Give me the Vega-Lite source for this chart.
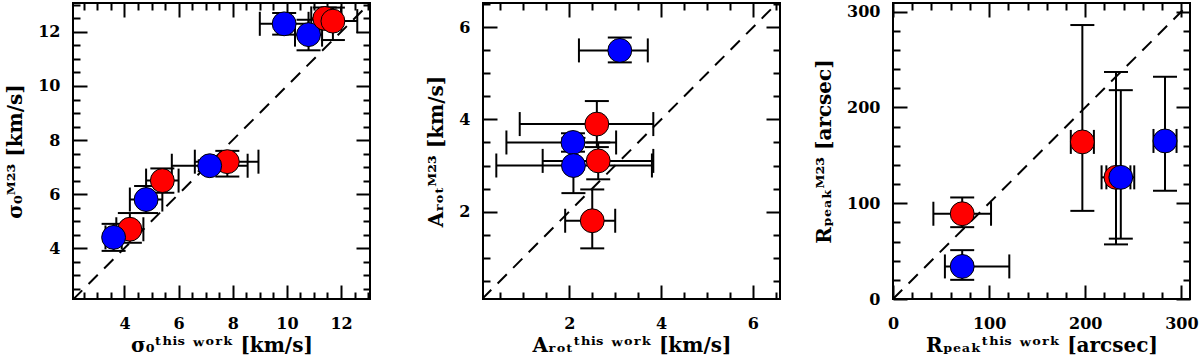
{
  "$schema": "https://vega.github.io/schema/vega-lite/v6.json",
  "background": "white",
  "padding": {"left": 4, "top": 1, "right": 0, "bottom": 0},
  "spacing": 113,
  "bounds": "flush",
  "datasets": {
    "p1": [
      {"g": "A", "x": 4.2, "y": 4.7, "xlo": 3.7, "xhi": 4.7, "ylo": 4.2, "yhi": 5.3},
      {"g": "B", "x": 3.6, "y": 4.4, "xlo": 3.3, "xhi": 3.9, "ylo": 3.9, "yhi": 4.9},
      {"g": "A", "x": 5.4, "y": 6.5, "xlo": 4.8, "xhi": 6.0, "ylo": 6.05, "yhi": 6.95},
      {"g": "B", "x": 4.8, "y": 5.8, "xlo": 4.2, "xhi": 5.4, "ylo": 5.3, "yhi": 6.3},
      {"g": "A", "x": 7.8, "y": 7.2, "xlo": 6.6, "xhi": 8.95, "ylo": 6.65, "yhi": 7.6},
      {"g": "B", "x": 7.15, "y": 7.05, "xlo": 5.75, "xhi": 8.55, "ylo": 6.85, "yhi": 7.25},
      {"g": "B", "x": 9.9, "y": 12.3, "xlo": 9.0, "xhi": 10.8, "ylo": 11.9, "yhi": 12.7},
      {"g": "B", "x": 10.8, "y": 11.9, "xlo": 10.3, "xhi": 11.3, "ylo": 11.32, "yhi": 12.45},
      {"g": "A", "x": 11.4, "y": 12.5, "xlo": 10.9, "xhi": 12.0, "ylo": 12.1, "yhi": 12.9},
      {"g": "A", "x": 11.7, "y": 12.4, "xlo": 11.2, "xhi": 12.6, "ylo": 11.7, "yhi": 12.9}
    ],
    "p2": [
      {"g": "B", "x": 2.08, "y": 3.5, "xlo": 0.63, "xhi": 3.02, "ylo": 3.3, "yhi": 3.7},
      {"g": "B", "x": 2.09, "y": 3.0, "xlo": 0.41, "xhi": 3.8, "ylo": 2.4, "yhi": 3.6},
      {"g": "A", "x": 2.63, "y": 3.1, "xlo": 1.42, "xhi": 3.83, "ylo": 2.7, "yhi": 3.5},
      {"g": "A", "x": 2.6, "y": 3.9, "xlo": 0.92, "xhi": 3.83, "ylo": 3.4, "yhi": 4.4},
      {"g": "A", "x": 2.5, "y": 1.8, "xlo": 1.91, "xhi": 3.0, "ylo": 1.2, "yhi": 2.48},
      {"g": "B", "x": 3.1, "y": 5.5, "xlo": 2.21, "xhi": 3.71, "ylo": 5.24, "yhi": 5.78}
    ],
    "p3": [
      {"g": "A", "x": 72, "y": 89, "xlo": 42, "xhi": 102, "ylo": 75, "yhi": 106},
      {"g": "B", "x": 72, "y": 34, "xlo": 54, "xhi": 121, "ylo": 20, "yhi": 51},
      {"g": "A", "x": 197, "y": 164, "xlo": 185, "xhi": 209, "ylo": 92, "yhi": 286},
      {"g": "A", "x": 232, "y": 127, "xlo": 217, "xhi": 247, "ylo": 57, "yhi": 237},
      {"g": "B", "x": 237, "y": 127, "xlo": 222, "xhi": 251, "ylo": 63, "yhi": 218},
      {"g": "B", "x": 283, "y": 165, "xlo": 271, "xhi": 295, "ylo": 113, "yhi": 232}
    ],
    "l1": [{"x": 2.1, "y": 2.1}, {"x": 13.07, "y": 13.07}],
    "l2": [{"x": 0.1, "y": 0.1}, {"x": 6.6, "y": 6.6}],
    "l3": [{"x": 0, "y": 0}, {"x": 309, "y": 309}]
  },
  "hconcat": [
    {
      "width": 297, "height": 296,
      "data": {"name": "p1"},
      "resolve": {"axis": {"x": "independent", "y": "independent"}},
      "layer": [
        {"mark": {"type": "rule", "color": "black", "strokeWidth": 2},
         "encoding": {
           "x": {"field": "xlo", "type": "quantitative", "scale": {"domain": [2.1, 13.07], "nice": false, "zero": false},
                 "axis": {"orient": "bottom", "values": [4, 6, 8, 10, 12], "tickSize": -14, "labelPadding": 30, "title": "σ₀ᵗʰⁱˢ ʷᵒʳᵏ [km/s]"}},
           "x2": {"field": "xhi"},
           "y": {"field": "y", "type": "quantitative", "scale": {"domain": [2.12, 13.07], "nice": false, "zero": false},
                 "axis": {"orient": "left", "values": [4, 6, 8, 10, 12], "tickSize": -14, "labelPadding": 27, "titlePadding": 12, "title": "σ₀ᴹ²³ [km/s]"}}
         }},
        {"mark": {"type": "rule", "color": "black", "strokeWidth": 2},
         "encoding": {
           "x": {"field": "x", "type": "quantitative",
                 "axis": {"orient": "bottom", "values": [2.5, 3, 3.5, 4.5, 5, 5.5, 6.5, 7, 7.5, 8.5, 9, 9.5, 10.5, 11, 11.5, 12.5, 13], "tickSize": -7, "labels": false, "title": null}},
           "y": {"field": "ylo", "type": "quantitative",
                 "axis": {"orient": "left", "values": [2.5, 3, 3.5, 4.5, 5, 5.5, 6.5, 7, 7.5, 8.5, 9, 9.5, 10.5, 11, 11.5, 12.5, 13], "tickSize": -7, "labels": false, "title": null}},
           "y2": {"field": "yhi"}
         }},
        {"mark": {"type": "tick", "orient": "vertical", "size": 24, "thickness": 2, "color": "black", "opacity": 1},
         "encoding": {
           "x": {"field": "xlo", "type": "quantitative",
                 "axis": {"orient": "top", "values": [4, 6, 8, 10, 12], "tickSize": -14, "labels": false, "title": null}},
           "y": {"field": "y", "type": "quantitative",
                 "axis": {"orient": "right", "values": [4, 6, 8, 10, 12], "tickSize": -14, "labels": false, "title": null}}
         }},
        {"mark": {"type": "tick", "orient": "vertical", "size": 24, "thickness": 2, "color": "black", "opacity": 1},
         "encoding": {
           "x": {"field": "xhi", "type": "quantitative",
                 "axis": {"orient": "top", "values": [2.5, 3, 3.5, 4.5, 5, 5.5, 6.5, 7, 7.5, 8.5, 9, 9.5, 10.5, 11, 11.5, 12.5, 13], "tickSize": -7, "labels": false, "title": null}},
           "y": {"field": "y", "type": "quantitative",
                 "axis": {"orient": "right", "values": [2.5, 3, 3.5, 4.5, 5, 5.5, 6.5, 7, 7.5, 8.5, 9, 9.5, 10.5, 11, 11.5, 12.5, 13], "tickSize": -7, "labels": false, "title": null}}
         }},
        {"mark": {"type": "tick", "orient": "horizontal", "size": 24, "thickness": 2, "color": "black", "opacity": 1},
         "encoding": {
           "x": {"field": "x", "type": "quantitative", "axis": null},
           "y": {"field": "ylo", "type": "quantitative", "axis": null}
         }},
        {"mark": {"type": "tick", "orient": "horizontal", "size": 24, "thickness": 2, "color": "black", "opacity": 1},
         "encoding": {
           "x": {"field": "x", "type": "quantitative", "axis": null},
           "y": {"field": "yhi", "type": "quantitative", "axis": null}
         }},
        {"data": {"name": "l1"},
         "mark": {"type": "line", "color": "black", "strokeWidth": 2, "strokeDash": [13, 9], "clip": true},
         "encoding": {
           "x": {"field": "x", "type": "quantitative", "axis": null},
           "y": {"field": "y", "type": "quantitative", "axis": null}
         }},
        {"mark": {"type": "point", "shape": "circle", "filled": true, "size": 570, "stroke": "black", "strokeWidth": 1, "opacity": 1},
         "encoding": {
           "x": {"field": "x", "type": "quantitative", "axis": null},
           "y": {"field": "y", "type": "quantitative", "axis": null},
           "color": {"field": "g", "type": "nominal", "scale": {"domain": ["A", "B"], "range": ["#ff0000", "#0000ff"]}, "legend": null}
         }}
      ]
    },
    {
      "width": 297, "height": 296,
      "data": {"name": "p2"},
      "resolve": {"axis": {"x": "independent", "y": "independent"}},
      "layer": [
        {"mark": {"type": "rule", "color": "black", "strokeWidth": 2},
         "encoding": {
           "x": {"field": "xlo", "type": "quantitative", "scale": {"domain": [0.12, 6.59], "nice": false, "zero": false},
                 "axis": {"orient": "bottom", "values": [2, 4, 6], "tickSize": -14, "labelPadding": 30, "title": "Aᵣₒₜᵗʰⁱˢ ʷᵒʳᵏ [km/s]"}},
           "x2": {"field": "xhi"},
           "y": {"field": "y", "type": "quantitative", "scale": {"domain": [0.1, 6.53], "nice": false, "zero": false},
                 "axis": {"orient": "left", "values": [2, 4, 6], "tickSize": -14, "labelPadding": 27, "titlePadding": 12, "title": "Aᵣₒₜᴹ²³ [km/s]"}}
         }},
        {"mark": {"type": "rule", "color": "black", "strokeWidth": 2},
         "encoding": {
           "x": {"field": "x", "type": "quantitative",
                 "axis": {"orient": "bottom", "values": [0.5, 1, 1.5, 2.5, 3, 3.5, 4.5, 5, 5.5, 6.5], "tickSize": -7, "labels": false, "title": null}},
           "y": {"field": "ylo", "type": "quantitative",
                 "axis": {"orient": "left", "values": [0.5, 1, 1.5, 2.5, 3, 3.5, 4.5, 5, 5.5, 6.5], "tickSize": -7, "labels": false, "title": null}},
           "y2": {"field": "yhi"}
         }},
        {"mark": {"type": "tick", "orient": "vertical", "size": 24, "thickness": 2, "color": "black", "opacity": 1},
         "encoding": {
           "x": {"field": "xlo", "type": "quantitative",
                 "axis": {"orient": "top", "values": [2, 4, 6], "tickSize": -14, "labels": false, "title": null}},
           "y": {"field": "y", "type": "quantitative",
                 "axis": {"orient": "right", "values": [2, 4, 6], "tickSize": -14, "labels": false, "title": null}}
         }},
        {"mark": {"type": "tick", "orient": "vertical", "size": 24, "thickness": 2, "color": "black", "opacity": 1},
         "encoding": {
           "x": {"field": "xhi", "type": "quantitative",
                 "axis": {"orient": "top", "values": [0.5, 1, 1.5, 2.5, 3, 3.5, 4.5, 5, 5.5, 6.5], "tickSize": -7, "labels": false, "title": null}},
           "y": {"field": "y", "type": "quantitative",
                 "axis": {"orient": "right", "values": [0.5, 1, 1.5, 2.5, 3, 3.5, 4.5, 5, 5.5, 6.5], "tickSize": -7, "labels": false, "title": null}}
         }},
        {"mark": {"type": "tick", "orient": "horizontal", "size": 24, "thickness": 2, "color": "black", "opacity": 1},
         "encoding": {
           "x": {"field": "x", "type": "quantitative", "axis": null},
           "y": {"field": "ylo", "type": "quantitative", "axis": null}
         }},
        {"mark": {"type": "tick", "orient": "horizontal", "size": 24, "thickness": 2, "color": "black", "opacity": 1},
         "encoding": {
           "x": {"field": "x", "type": "quantitative", "axis": null},
           "y": {"field": "yhi", "type": "quantitative", "axis": null}
         }},
        {"data": {"name": "l2"},
         "mark": {"type": "line", "color": "black", "strokeWidth": 2, "strokeDash": [13, 9], "clip": true},
         "encoding": {
           "x": {"field": "x", "type": "quantitative", "axis": null},
           "y": {"field": "y", "type": "quantitative", "axis": null}
         }},
        {"mark": {"type": "point", "shape": "circle", "filled": true, "size": 570, "stroke": "black", "strokeWidth": 1, "opacity": 1},
         "encoding": {
           "x": {"field": "x", "type": "quantitative", "axis": null},
           "y": {"field": "y", "type": "quantitative", "axis": null},
           "color": {"field": "g", "type": "nominal", "scale": {"domain": ["A", "B"], "range": ["#ff0000", "#0000ff"]}, "legend": null}
         }}
      ]
    },
    {
      "width": 297, "height": 296,
      "data": {"name": "p3"},
      "resolve": {"axis": {"x": "independent", "y": "independent"}},
      "layer": [
        {"mark": {"type": "rule", "color": "black", "strokeWidth": 2},
         "encoding": {
           "x": {"field": "xlo", "type": "quantitative", "scale": {"domain": [0, 309], "nice": false, "zero": false},
                 "axis": {"orient": "bottom", "values": [0, 100, 200, 300], "tickSize": -14, "labelPadding": 30, "title": "Rₚₑₐₖᵗʰⁱˢ ʷᵒʳᵏ [arcsec]"}},
           "x2": {"field": "xhi"},
           "y": {"field": "y", "type": "quantitative", "scale": {"domain": [0, 309], "nice": false, "zero": false},
                 "axis": {"orient": "left", "values": [0, 100, 200, 300], "tickSize": -14, "labelPadding": 27, "titlePadding": 12, "title": "Rₚₑₐₖᴹ²³ [arcsec]"}}
         }},
        {"mark": {"type": "rule", "color": "black", "strokeWidth": 2},
         "encoding": {
           "x": {"field": "x", "type": "quantitative",
                 "axis": {"orient": "bottom", "values": [20, 40, 60, 80, 120, 140, 160, 180, 220, 240, 260, 280], "tickSize": -7, "labels": false, "title": null}},
           "y": {"field": "ylo", "type": "quantitative",
                 "axis": {"orient": "left", "values": [20, 40, 60, 80, 120, 140, 160, 180, 220, 240, 260, 280], "tickSize": -7, "labels": false, "title": null}},
           "y2": {"field": "yhi"}
         }},
        {"mark": {"type": "tick", "orient": "vertical", "size": 24, "thickness": 2, "color": "black", "opacity": 1},
         "encoding": {
           "x": {"field": "xlo", "type": "quantitative",
                 "axis": {"orient": "top", "values": [0, 100, 200, 300], "tickSize": -14, "labels": false, "title": null}},
           "y": {"field": "y", "type": "quantitative",
                 "axis": {"orient": "right", "values": [0, 100, 200, 300], "tickSize": -14, "labels": false, "title": null}}
         }},
        {"mark": {"type": "tick", "orient": "vertical", "size": 24, "thickness": 2, "color": "black", "opacity": 1},
         "encoding": {
           "x": {"field": "xhi", "type": "quantitative",
                 "axis": {"orient": "top", "values": [20, 40, 60, 80, 120, 140, 160, 180, 220, 240, 260, 280], "tickSize": -7, "labels": false, "title": null}},
           "y": {"field": "y", "type": "quantitative",
                 "axis": {"orient": "right", "values": [20, 40, 60, 80, 120, 140, 160, 180, 220, 240, 260, 280], "tickSize": -7, "labels": false, "title": null}}
         }},
        {"mark": {"type": "tick", "orient": "horizontal", "size": 24, "thickness": 2, "color": "black", "opacity": 1},
         "encoding": {
           "x": {"field": "x", "type": "quantitative", "axis": null},
           "y": {"field": "ylo", "type": "quantitative", "axis": null}
         }},
        {"mark": {"type": "tick", "orient": "horizontal", "size": 24, "thickness": 2, "color": "black", "opacity": 1},
         "encoding": {
           "x": {"field": "x", "type": "quantitative", "axis": null},
           "y": {"field": "yhi", "type": "quantitative", "axis": null}
         }},
        {"data": {"name": "l3"},
         "mark": {"type": "line", "color": "black", "strokeWidth": 2, "strokeDash": [13, 9], "clip": true},
         "encoding": {
           "x": {"field": "x", "type": "quantitative", "axis": null},
           "y": {"field": "y", "type": "quantitative", "axis": null}
         }},
        {"mark": {"type": "point", "shape": "circle", "filled": true, "size": 570, "stroke": "black", "strokeWidth": 1, "opacity": 1},
         "encoding": {
           "x": {"field": "x", "type": "quantitative", "axis": null},
           "y": {"field": "y", "type": "quantitative", "axis": null},
           "color": {"field": "g", "type": "nominal", "scale": {"domain": ["A", "B"], "range": ["#ff0000", "#0000ff"]}, "legend": null}
         }}
      ]
    }
  ],
  "config": {
    "view": {"stroke": "black", "strokeWidth": 2},
    "axis": {
      "domain": false, "grid": false,
      "tickColor": "black", "tickWidth": 2,
      "labelFont": "DejaVu Serif", "labelFontSize": 16, "labelFontWeight": "bold", "labelColor": "black",
      "labelFlush": false, "labelOverlap": false,
      "titleFont": "DejaVu Serif", "titleFontSize": 20, "titleFontWeight": "bold", "titleColor": "black"
    }
  }
}
